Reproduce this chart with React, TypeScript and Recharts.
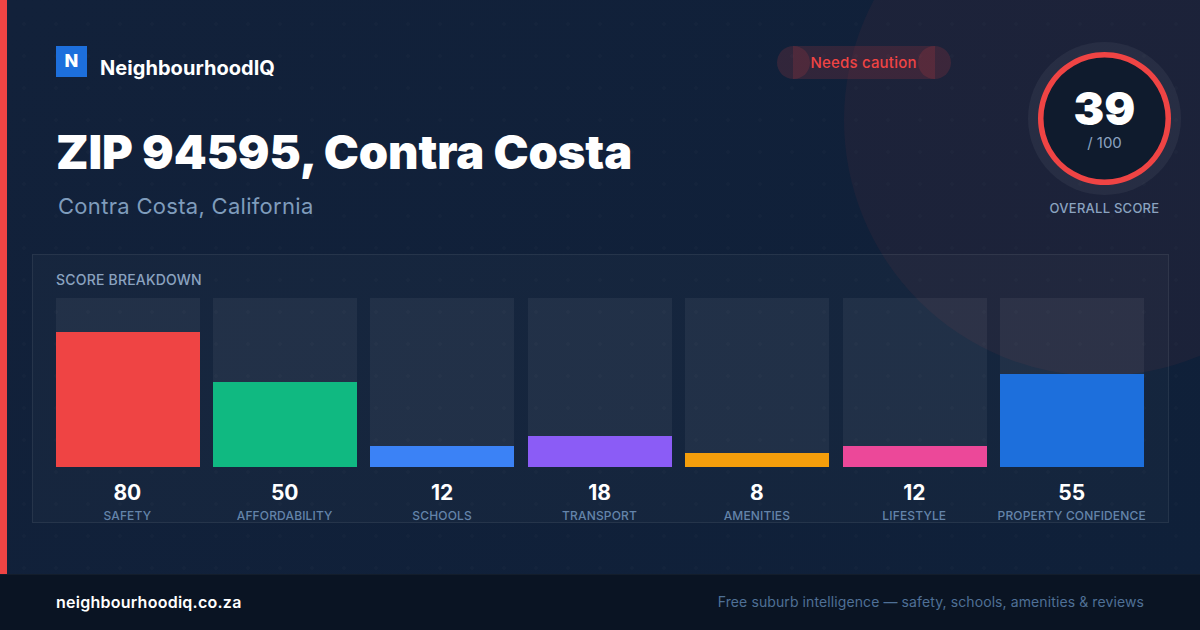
import { Bar, BarChart, Cell, Pie, PieChart, XAxis, YAxis } from "recharts";

const categories = ["SAFETY", "AFFORDABILITY", "SCHOOLS", "TRANSPORT", "AMENITIES", "LIFESTYLE", "PROPERTY CONFIDENCE"];
const scores = [80, 50, 12, 18, 8, 12, 55];
const barColors = ["#ef4444", "#10b981", "#3b82f6", "#8b5cf6", "#f59e0b", "#ec4899", "#1d6fdc"];
const ringValues = [100];

const rows = categories.map((name, i) => ({ name, score: scores[i] }));
const ringRows = ringValues.map((value) => ({ value }));

const FONT = "Inter, sans-serif";

function Txt(props: { x: number; y: number; size: number; color: string; weight?: number; spacing?: number; right?: boolean; center?: boolean; children: string }) {
  // y is the vertical centre of the line
  const { x, y, size, color, weight = 400, spacing = 0, right, center, children } = props;
  const transform = center ? "translate(-50%, -50%)" : right ? "translate(-100%, -50%)" : "translateY(-50%)";
  return (
    <div
      style={{
        position: "absolute",
        left: x,
        top: y,
        transform,
        fontFamily: FONT,
        fontSize: size,
        fontWeight: weight,
        letterSpacing: spacing,
        color,
        whiteSpace: "nowrap",
        lineHeight: 1,
      }}
    >
      {children}
    </div>
  );
}

function BarTick({ x, y, index }: any) {
  return (
    <g>
      <text x={x} y={y + 25} textAnchor="middle" fill="#ffffff" fontFamily={FONT} fontSize={21} fontWeight={700}>
        {scores[index]}
      </text>
      <text x={x} y={y + 45} textAnchor="middle" fill="#6484aa" fontFamily={FONT} fontSize={12} fontWeight={500} letterSpacing={0.15}>
        {categories[index]}
      </text>
    </g>
  );
}

export default function App() {
  return (
    <div
      style={{
        position: "fixed",
        left: 0,
        top: 0,
        width: 1200,
        height: 630,
        overflow: "hidden",
        background: "linear-gradient(135deg, #12213a, #0f2039)",
      }}
    >
      {/* dot grid */}
      <div
        style={{
          position: "absolute",
          inset: 0,
          backgroundImage: "radial-gradient(circle at 24px 24px, rgba(255,255,255,0.014) 1.5px, transparent 2px)",
          backgroundSize: "32px 32px",
        }}
      />
      <div
        style={{
          position: "absolute",
          left: 844,
          top: -136,
          width: 512,
          height: 512,
          borderRadius: "50%",
          background: "rgba(239,68,68,0.055)",
        }}
      />
      <div style={{ position: "absolute", left: 0, top: 0, width: 7, height: 574, background: "#ef4444" }} />

      {/* brand */}
      <div style={{ position: "absolute", left: 56, top: 46, width: 31, height: 31, background: "#1d6fdc" }} />
      <Txt x={71.5} y={61} size={18} weight={800} color="#ffffff" center>N</Txt>
      <Txt x={100} y={68} size={20} weight={700} color="#ffffff" spacing={0.05}>NeighbourhoodIQ</Txt>

      {/* status pill */}
      <div style={{ position: "absolute", left: 793, top: 46, width: 142, height: 33, background: "rgba(239,68,68,0.15)" }} />
      <div style={{ position: "absolute", left: 777, top: 46, width: 33, height: 33, borderRadius: "50%", background: "rgba(239,68,68,0.15)" }} />
      <div style={{ position: "absolute", left: 918, top: 46, width: 33, height: 33, borderRadius: "50%", background: "rgba(239,68,68,0.15)" }} />
      <Txt x={863.5} y={62} size={15} weight={500} color="#ef4444" spacing={0.2} center>Needs caution</Txt>

      <Txt x={56} y={151} size={47} weight={900} color="#ffffff" spacing={-0.1}>ZIP 94595, Contra Costa</Txt>
      <Txt x={58} y={206} size={22} color="#7f9cbc" spacing={0.3}>Contra Costa, California</Txt>

      {/* overall score */}
      <div style={{ position: "absolute", left: 1028, top: 42, width: 153, height: 153, borderRadius: "50%", background: "rgba(255,255,255,0.05)" }} />
      <div style={{ position: "absolute", left: 1040, top: 54, width: 129, height: 129, borderRadius: "50%", background: "#0f1b2d" }} />
      <div style={{ position: "absolute", left: 1028, top: 42 }}>
        <PieChart width={153} height={153} margin={{ top: 0, right: 0, bottom: 0, left: 0 }}>
          <Pie
            data={ringRows}
            dataKey="value"
            cx={76.5}
            cy={76.5}
            innerRadius={61}
            outerRadius={66.5}
            startAngle={90}
            endAngle={-270}
            fill="#ef4444"
            stroke="none"
            isAnimationActive={false}
          />
        </PieChart>
      </div>
      <Txt x={1104.5} y={108} size={46} weight={900} color="#ffffff" center>39</Txt>
      <Txt x={1104.5} y={141.5} size={15} color="#8ba3c0" center>/ 100</Txt>
      <Txt x={1104.5} y={208} size={13} weight={500} color="#8ba3c0" spacing={0.25} center>OVERALL SCORE</Txt>

      {/* breakdown panel */}
      <div
        style={{
          position: "absolute",
          left: 32,
          top: 254,
          width: 1137,
          height: 269,
          boxSizing: "border-box",
          background: "rgba(255,255,255,0.025)",
          border: "1px solid rgba(255,255,255,0.07)",
        }}
      />
      <Txt x={56} y={280} size={14} weight={500} color="#8ba3c0" spacing={0.2}>SCORE BREAKDOWN</Txt>
      <div style={{ position: "absolute", left: 0, top: 0 }}>
        <BarChart
          width={1200}
          height={630}
          data={rows}
          margin={{ top: 297.75, right: 49.6, bottom: 103.25, left: 48.6 }}
        >
          <XAxis dataKey="name" axisLine={false} tickLine={false} height={60} interval={0} tick={<BarTick />} />
          <YAxis hide domain={[0, 100]} />
          <Bar
            dataKey="score"
            barSize={144}
            shapeRendering="crispEdges"
            background={{ fill: "rgba(255,255,255,0.055)", shapeRendering: "crispEdges" }}
            isAnimationActive={false}
          >
            {barColors.map((c) => (
              <Cell key={c} fill={c} shapeRendering="crispEdges" />
            ))}
          </Bar>
        </BarChart>
      </div>

      {/* footer */}
      <div
        style={{
          position: "absolute",
          left: 0,
          top: 574,
          width: 1200,
          height: 56,
          boxSizing: "border-box",
          background: "#0a1423",
          borderTop: "1px solid rgba(255,255,255,0.04)",
        }}
      />
      <Txt x={56} y={602} size={16} weight={600} color="#ffffff" spacing={0.25}>neighbourhoodiq.co.za</Txt>
      <Txt x={1144} y={602} size={14} color="#4f7096" spacing={0.1} right>Free suburb intelligence — safety, schools, amenities &amp; reviews</Txt>
    </div>
  );
}
